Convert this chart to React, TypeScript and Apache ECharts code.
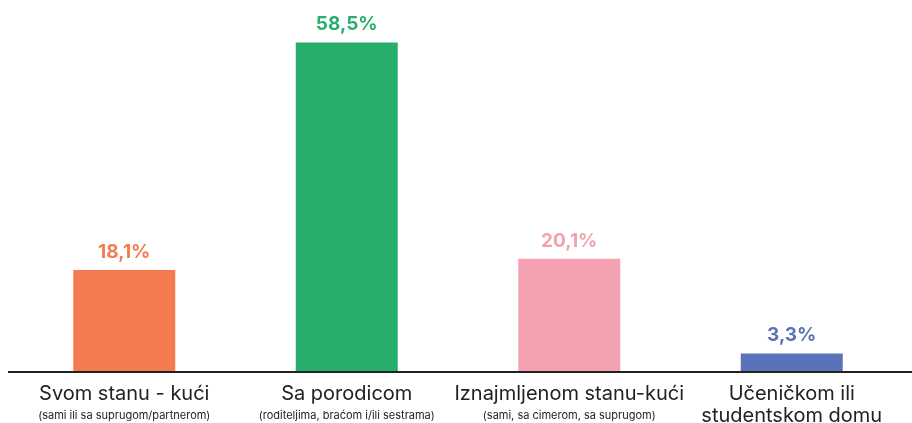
import React, { useEffect, useRef } from "react";
import * as echarts from "echarts";

const categories = ["Svom stanu - kući", "Sa porodicom", "Iznajmljenom stanu-kući", "Učeničkom ili\nstudentskom domu"];
const subLabels = ["(sami ili sa suprugom/partnerom)", "(roditeljima, braćom i/ili sestrama)", "(sami, sa cimerom, sa suprugom)", ""];
const values = [18.1, 58.5, 20.1, 3.3];
const colors = ["#F47A4F", "#27AE6C", "#F4A2B1", "#5A72B8"];

export default function App() {
  const ref = useRef<HTMLDivElement>(null);
  useEffect(() => {
    if (!ref.current) return;
    const chart = echarts.init(ref.current, null, { renderer: "svg" });
    const font = "Inter, 'Noto Sans', sans-serif";
    chart.setOption({
      animation: false,
      grid: { left: 13, right: 9, top: 34, bottom: 51, containLabel: false, outerBoundsMode: "none" },
      graphic: [
        {
          type: "line",
          shape: { x1: 8, y1: 372, x2: 912, y2: 372 },
          style: { stroke: "#222", lineWidth: 2 },
          z: 10,
        },
      ],
      xAxis: {
        type: "category",
        data: categories,
        axisLine: { show: false },
        axisTick: { show: false },
        axisLabel: {
          interval: 0,
          margin: 10,
          formatter: (v: string, i: number) => {
            const lines = v.split("\n").map((l) => `{a|${l}}`);
            if (subLabels[i]) lines.push(`{b|${subLabels[i]}}`);
            return lines.join("\n");
          },
          rich: {
            a: { fontFamily: font, fontSize: 20, color: "#222", lineHeight: 22 },
            b: { fontFamily: font, fontSize: 11, color: "#222", lineHeight: 22 },
          },
        },
      },
      yAxis: {
        type: "value",
        min: 0,
        max: 60,
        show: false,
        splitLine: { show: false },
      },
      series: [
        {
          type: "bar",
          barWidth: 102,
          data: values.map((v, i) => ({
            value: v,
            itemStyle: { color: colors[i] },
            label: { color: colors[i] },
          })),
          label: {
            show: true,
            position: "top",
            distance: 9,
            fontFamily: font,
            fontSize: 19,
            fontWeight: "bold",
            formatter: (p: any) => String(p.value).replace(".", ",") + "%",
          },
        },
      ],
    });
    return () => chart.dispose();
  }, []);
  return <div ref={ref} style={{ position: "fixed", left: 0, top: 0, width: 912, height: 423 }} />;
}
